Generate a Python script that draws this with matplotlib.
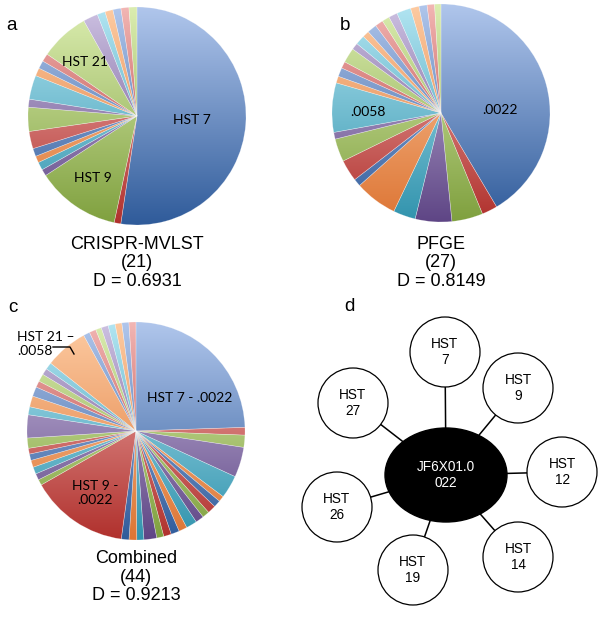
import numpy as np
import matplotlib
matplotlib.use("Agg")
import matplotlib.pyplot as plt
from matplotlib.patches import Circle, Ellipse
from matplotlib.lines import Line2D
from matplotlib.colors import to_rgb

W, H = 600, 617

# share of isolates per type (clockwise from 12 o'clock)
crispr_vals = [53.0, 1.0, 12.6, 1.0, 1.2, 1.0, 1.2, 2.6, 3.6, 1.2, 3.6,
               1.2, 1.2, 1.2, 7.4, 2.2, 1.2, 1.2, 1.2, 1.2, 1.2]
pfge_vals = [41.4, 2.3, 4.6, 5.4, 3.3, 6.3, 1.1, 3.2, 3.4, 1.0, 7.3, 1.0,
             1.3, 1.0, 2.2, 1.0, 1.4, 1.0, 1.4, 1.2, 1.1, 1.3, 2.1, 1.25,
             1.2, 1.1, 0.95]
combined_vals = [25.8, 1.2, 1.9, 4.7, 3.6, 0.9, 1.1, 1.3, 1.1, 1.3, 1.7,
                 1.3, 1.3, 1.2, 1.1, 2.0, 1.1, 1.2, 1.2, 15.4, 0.9, 1.0,
                 1.1, 1.1, 1.0, 0.9, 1.6, 3.6, 1.25, 1.7, 1.5, 1.0, 1.2,
                 1.0, 1.1, 6.7, 1.0, 1.05, 0.9, 1.1, 1.1, 1.05, 1.1, 1.1]

captions = ["CRISPR-MVLST\n(21)\nD = 0.6931",
            "PFGE\n(27)\nD = 0.8149",
            "Combined\n(44)\nD = 0.9213"]

hub_label = "JF6X01.0\n022"
node_labels = ["HST\n7", "HST\n9", "HST\n12", "HST\n14", "HST\n19", "HST\n26", "HST\n27"]

# excel-ish palette, (top of gradient, bottom of gradient)
palette = [("#b0c6ec", "#2f5b9a"),
           ("#f2b6b4", "#b0302c"),
           ("#dbedb0", "#7fa03e"),
           ("#cdc1e2", "#5e4585"),
           ("#b2e5f2", "#3193ad"),
           ("#fdcba2", "#dd7534")]

fig = plt.figure(figsize=(W / 100, H / 100), dpi=100)
fig.patch.set_facecolor("white")


def fy(py):
    return 1 - py / H


def ftext(px, py, s, **kw):
    kw.setdefault("ha", "center")
    kw.setdefault("va", "center")
    return fig.text(px / W, fy(py), s, **kw)


def grad_pie(cx, cy, r, vals):
    ax = fig.add_axes([(cx - r) / W, fy(cy + r), 2 * r / W, 2 * r / H])
    wedges, _ = ax.pie(vals, startangle=90, counterclock=False, radius=1)
    g = np.linspace(0, 1, 256)[:, None, None]
    for i, w in enumerate(wedges):
        top, bot = palette[i % 6]
        img = (1 - g) * np.array(to_rgb(top)) + g * np.array(to_rgb(bot))
        w.set_facecolor("none")
        w.set_edgecolor((1, 1, 1, 0.35))
        w.set_linewidth(0.4)
        w.set_zorder(2)
        im = ax.imshow(img, extent=(-1, 1, -1, 1), origin="upper",
                       aspect="auto", zorder=1)
        im.set_clip_path(w)
    ax.set_xlim(-1, 1)
    ax.set_ylim(-1, 1)
    ax.set_aspect("equal")
    ax.axis("off")
    return ax


lbl = dict(fontsize=10, family=["Lato", "DejaVu Sans"], color="black")
cap = dict(fontsize=13, family=["Liberation Sans", "DejaVu Sans"], linespacing=1.12)
let = dict(fontsize=13.5, family=["Liberation Sans", "DejaVu Sans"], ha="left")

# a
grad_pie(137, 116, 109, crispr_vals)
ftext(192, 120, "HST 7", **lbl)
ftext(93, 178, "HST 9", **lbl)
ftext(85, 62, "HST 21", **lbl)
ftext(137, 263, captions[0], **cap)
ftext(6, 26, "a", **let)

# b
grad_pie(441, 113, 109, pfge_vals)
ftext(500, 110, ".0022", **lbl)
ftext(368, 112, ".0058", **lbl)
ftext(441, 263, captions[1], **cap)
ftext(340, 26, "b", **let)

# c
grad_pie(136, 431, 109, combined_vals)
ftext(190, 398, "HST 7 - .0022", **lbl)
ftext(95, 493, "HST 9 -\n.0022", **lbl)
ftext(17, 344, "HST 21 \u2013\n.0058", **dict(lbl, ha="left"))
fig.add_artist(Line2D([53 / W, 70 / W, 74 / W], [fy(347), fy(347), fy(354)],
                      color="black", lw=1, transform=fig.transFigure))
ftext(136, 577, captions[2], **cap)
ftext(8, 307, "c", **let)

# d: network
axd = fig.add_axes([300 / W, 0, 300 / W, 317 / H])
axd.set_xlim(300, 600)
axd.set_ylim(617, 300)
axd.axis("off")
hub = (446, 475)
node_pos = [(445, 352), (518, 388), (562, 472), (518, 557),
            (413, 570), (337, 507), (353, 403)]
for (x, y), name in zip(node_pos, node_labels):
    axd.plot([hub[0], x], [hub[1], y], color="black", lw=1.1, zorder=1)
    axd.add_patch(Circle((x, y), 35, facecolor="white", edgecolor="black",
                         lw=0.9, zorder=2))
    axd.text(x, y, name, ha="center", va="center", fontsize=9.8,
             linespacing=1.25, family=["Liberation Sans", "DejaVu Sans"], zorder=3)
axd.add_patch(Ellipse(hub, 122, 94, facecolor="black", edgecolor="black", zorder=2))
axd.text(hub[0], hub[1], hub_label, ha="center", va="center", fontsize=9.8,
         linespacing=1.25, color="white", family=["Liberation Sans", "DejaVu Sans"],
         zorder=3)
ftext(344, 306, "d", **let)

fig.savefig("out.png", dpi=100)
